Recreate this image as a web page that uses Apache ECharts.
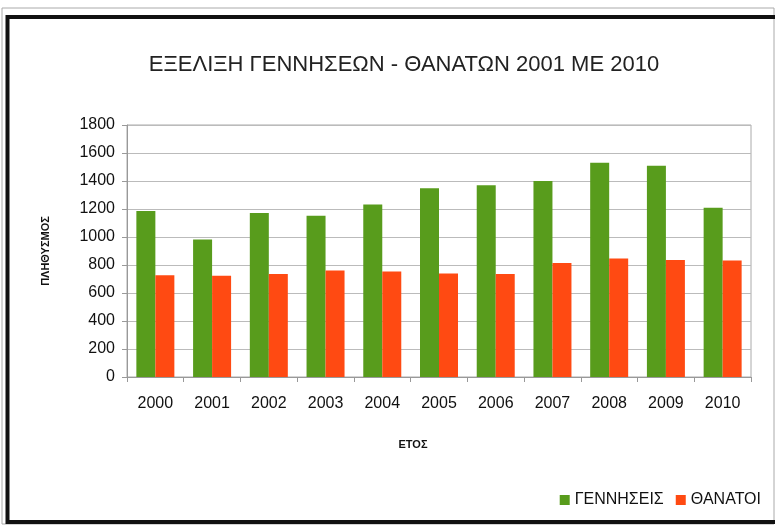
<!DOCTYPE html>
<html><head><meta charset="utf-8">
<script src="https://cdn.jsdelivr.net/npm/echarts@6/dist/echarts.min.js"></script>
<style>html,body{margin:0;padding:0;background:#fff}#c{width:775px;height:525px}</style>
</head><body><div id="c"></div>
<script>
const years = ['2000','2001','2002','2003','2004','2005','2006','2007','2008','2009','2010'];
const births = [1185, 983, 1171, 1152, 1232, 1348, 1370, 1400, 1531, 1509, 1209];
const deaths = [727, 723, 735, 761, 754, 739, 735, 815, 846, 836, 832];
const yTicks = [0, 200, 400, 600, 800, 1000, 1200, 1400, 1600, 1800];

const chart = echarts.init(document.getElementById('c'), null, {renderer:'canvas'});
chart.setOption({
  backgroundColor: '#fff',
  animation: false,
  graphic: [
    {type:'rect', shape:{x:2, y:8, width:772, height:516}, style:{fill:'none', stroke:'#aaa', lineWidth:1}, silent:true},
    {type:'rect', shape:{x:7.5, y:17, width:775, height:505}, style:{fill:'none', stroke:'#111', lineWidth:4}, silent:true}
  ],
  title: {
    text: 'ΕΞΕΛΙΞΗ ΓΕΝΝΗΣΕΩΝ - ΘΑΝΑΤΩΝ 2001 ΜΕ 2010',
    left: 399, top: 49, textAlign: 'center',
    textStyle: {fontFamily: '"Liberation Sans", Arial, sans-serif', fontSize: 22, fontWeight: 'normal', color: '#222'}
  },
  legend: {
    right: 9, top: 487, itemWidth: 10, itemHeight: 10, itemGap: 12,
    icon: 'rect',
    textStyle: {fontFamily: '"Liberation Sans", Arial, sans-serif', fontSize: 16, color: '#111'},
    data: ['ΓΕΝΝΗΣΕΙΣ', 'ΘΑΝΑΤΟΙ']
  },
  grid: {left: 127, right: 24, top: 125, bottom: 148, show: true, borderColor: '#aaa', borderWidth: 1},
  xAxis: {
    type: 'category', data: years,
    name: 'ΕΤΟΣ', nameLocation: 'middle', nameGap: 62,
    nameTextStyle: {fontFamily: '"Liberation Sans", Arial, sans-serif', fontSize: 11, fontWeight: 'bold', color: '#111', padding: [0, 52, 0, 0]},
    axisLine: {lineStyle: {color: '#999'}},
    axisTick: {show: true, length: 5, lineStyle: {color: '#999'}},
    axisLabel: {fontFamily: '"Liberation Sans", Arial, sans-serif', fontSize: 16, color: '#111', margin: 19}
  },
  yAxis: {
    type: 'value', min: 0, max: 1800, interval: 200,
    name: 'ΠΛΗΘΥΣΜΟΣ', nameLocation: 'middle', nameGap: 76, nameRotate: 90,
    nameTextStyle: {fontFamily: '"Liberation Sans", Arial, sans-serif', fontSize: 11, fontWeight: 'bold', color: '#111'},
    axisLine: {show: true, lineStyle: {color: '#999'}},
    axisTick: {show: true, length: 5, lineStyle: {color: '#999'}},
    axisLabel: {fontFamily: '"Liberation Sans", Arial, sans-serif', fontSize: 16, color: '#111', margin: 12,
      formatter: v => yTicks.includes(v) ? String(v) : ''},
    splitLine: {lineStyle: {color: '#bbb'}}
  },
  series: [
    {name: 'ΓΕΝΝΗΣΕΙΣ', type: 'bar', data: births, barWidth: 19, barGap: '0%', itemStyle: {color: '#589C1C'}},
    {name: 'ΘΑΝΑΤΟΙ', type: 'bar', data: deaths, barWidth: 19, barGap: '0%', itemStyle: {color: '#FF4A12'}}
  ]
});
</script></body></html>
